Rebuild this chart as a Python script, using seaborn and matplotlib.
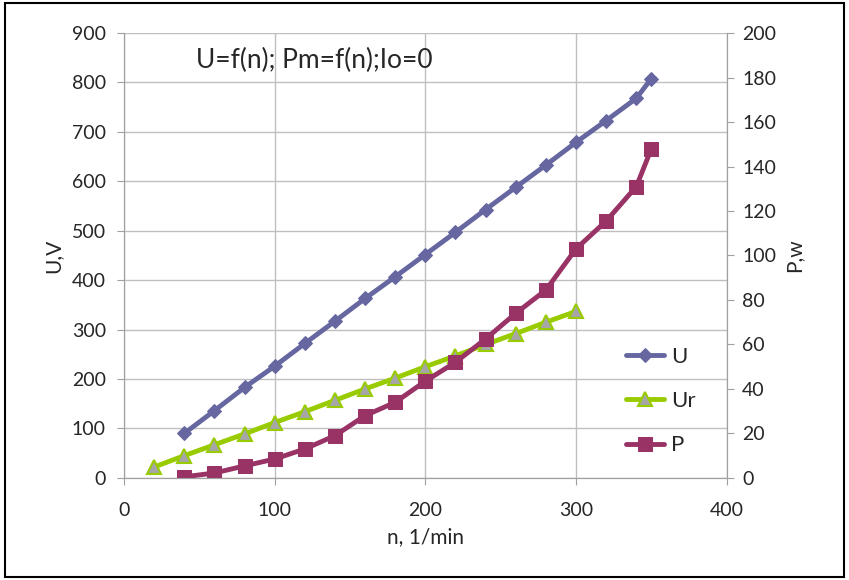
import pandas as pd
import seaborn as sns
import matplotlib.pyplot as plt
from matplotlib.patches import Rectangle

n_u = [40, 60, 80, 100, 120, 140, 160, 180, 200, 220, 240, 260, 280, 300, 320, 340, 350]
u_vals = [90, 136, 183, 226, 272, 317, 363, 407, 452, 497, 543, 588, 633, 679, 723, 768, 808]

n_ur = [20, 40, 60, 80, 100, 120, 140, 160, 180, 200, 220, 240, 260, 280, 300]
ur_vals = [22, 45, 67, 89, 112, 134, 157, 180, 202, 225, 247, 270, 292, 315, 337]

n_p = [40, 60, 80, 100, 120, 140, 160, 180, 200, 220, 240, 260, 280, 300, 320, 340, 350]
p_vals = [0.5, 2.2, 5.4, 8.5, 13, 19, 28, 34, 43.5, 52, 62.5, 74, 84.5, 103, 115.5, 131, 148]

df_u = pd.DataFrame({'n': n_u, 'val': u_vals})
df_ur = pd.DataFrame({'n': n_ur, 'val': ur_vals})
df_p = pd.DataFrame({'n': n_p, 'val': p_vals})

sns.set_style('white')
plt.rcParams['font.family'] = ['Lato', 'DejaVu Sans']

fig = plt.figure(figsize=(8.49, 5.80), dpi=100)
ax = fig.add_axes([0.146, 0.176, 0.710, 0.767])
ax2 = ax.twinx()

c_u = '#6667a0'
c_ur = '#99cc00'
c_p = '#993366'

sns.lineplot(data=df_u, x='n', y='val', ax=ax, color=c_u, lw=3.5, marker='D',
             markersize=7, markeredgecolor=c_u, label='U', legend=False)
sns.lineplot(data=df_ur, x='n', y='val', ax=ax, color=c_ur, lw=3.5, marker='^',
             markersize=10, markerfacecolor='#a6a6a6', markeredgecolor=c_ur,
             markeredgewidth=1.5, label='Ur', legend=False)
sns.lineplot(data=df_p, x='n', y='val', ax=ax2, color=c_p, lw=3.5, marker='s',
             markersize=10, markeredgecolor=c_p, label='P', legend=False)

ax.set_xlim(0, 400)
ax.set_ylim(0, 900)
ax2.set_ylim(0, 200)
ax.set_xticks(range(0, 401, 100))
ax.set_yticks(range(0, 901, 100))
ax2.set_yticks(range(0, 201, 20))

ax.grid(True, color='#bfbfbf', lw=1)
ax2.grid(False)
for a in (ax, ax2):
    for s in a.spines.values():
        s.set_color('#a0a0a0')
    a.spines['top'].set_visible(False)
    a.tick_params(labelsize=14, length=5, color='#a0a0a0', direction='out')
ax.tick_params(axis='x', bottom=True, pad=12)
ax.tick_params(axis='y', left=True, pad=8)
ax2.tick_params(axis='y', right=True, pad=6)

ax.set_xlabel('n, 1/min', fontsize=15, labelpad=6)
ax.set_ylabel('U,V', fontsize=15, labelpad=6)
ax2.set_ylabel('P,w', fontsize=15, labelpad=6)

ax.text(48, 845, 'U=f(n); Pm=f(n);Io=0', fontsize=19, va='center', ha='left')

handles = ax.get_lines()[:2] + ax2.get_lines()[:1]
ax2.legend(handles, ['U', 'Ur', 'P'], loc='center left',
           bbox_to_anchor=(0.8, 0.173), frameon=False, fontsize=16,
           handlelength=1.7, labelspacing=1.1, handletextpad=0.3)

fig.patches.append(Rectangle((0.006, 0.006), 0.988, 0.988, transform=fig.transFigure,
                             fill=False, edgecolor='black', lw=1.5))

fig.savefig('out.png', dpi=100)
